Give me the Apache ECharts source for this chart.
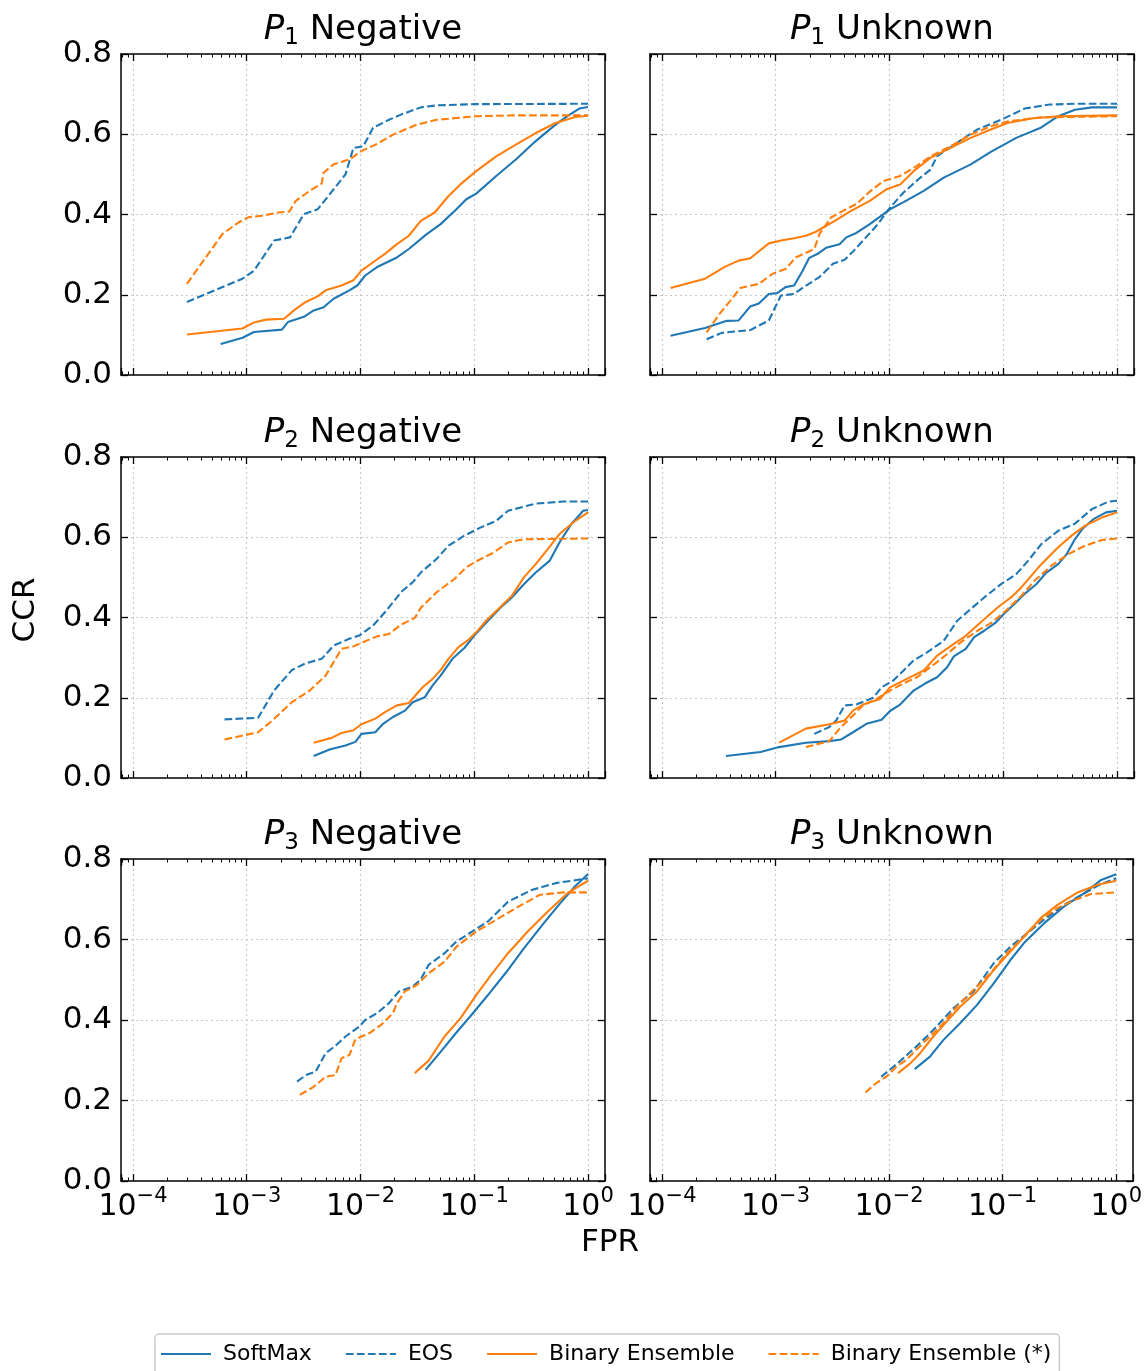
<!DOCTYPE html>
<html><head><meta charset="utf-8">
<script src="https://cdn.jsdelivr.net/npm/echarts@6/dist/echarts.min.js"></script>
<style>html,body{margin:0;padding:0;background:#fff}#c{width:1145px;height:1371px}</style>
</head><body><div id="c"></div>
<script>
// ---------------- data (FPR, CCR) ----------------
const p1negSoftmax = [[5.9e-4,0.077],[9.2e-4,0.093],[1.16e-3,0.107],[2.04e-3,0.113],[2.3e-3,0.132],[3.18e-3,0.145],[3.88e-3,0.161],[4.74e-3,0.169],[5.8e-3,0.19],[7.98e-3,0.211],[9.38e-3,0.223],[1.1e-2,0.248],[1.4e-2,0.269],[2.09e-2,0.293],[2.66e-2,0.314],[3.82e-2,0.351],[5.06e-2,0.376],[6.97e-2,0.413],[8.51e-2,0.438],[0.104,0.452],[0.156,0.496],[0.232,0.537],[0.347,0.583],[0.518,0.624],[0.659,0.645],[0.838,0.664],[1.0,0.668]];
const p1negEos = [[2.98e-4,0.182],[5.22e-4,0.211],[9.16e-4,0.24],[1.16e-3,0.26],[1.74e-3,0.335],[2.4e-3,0.343],[3.18e-3,0.401],[4.2e-3,0.413],[5.35e-3,0.45],[7.38e-3,0.5],[8.66e-3,0.566],[1.06e-2,0.57],[1.29e-2,0.616],[1.78e-2,0.636],[2.27e-2,0.649],[3.39e-2,0.667],[4.67e-2,0.672],[0.104,0.675],[1.0,0.676]];
const p1negBe = [[2.98e-4,0.101],[9.16e-4,0.116],[1.16e-3,0.131],[1.48e-3,0.138],[2.13e-3,0.14],[2.6e-3,0.161],[3.3e-3,0.182],[4.2e-3,0.196],[4.93e-3,0.211],[6.81e-3,0.223],[8.66e-3,0.236],[1.02e-2,0.26],[1.29e-2,0.281],[1.64e-2,0.302],[2.09e-2,0.326],[2.66e-2,0.347],[3.39e-2,0.384],[4.49e-2,0.405],[5.94e-2,0.446],[7.55e-2,0.475],[0.104,0.508],[0.156,0.545],[0.232,0.574],[0.347,0.603],[0.518,0.628],[0.774,0.643],[1.0,0.646]];
const p1negBeStar = [[2.98e-4,0.227],[6.1e-4,0.351],[8.45e-4,0.38],[1.03e-3,0.393],[1.37e-3,0.397],[1.88e-3,0.405],[2.36e-3,0.407],[2.7e-3,0.434],[3.58e-3,0.459],[4.56e-3,0.477],[4.74e-3,0.504],[5.8e-3,0.525],[7.98e-3,0.537],[1.02e-2,0.558],[1.4e-2,0.576],[1.93e-2,0.599],[3.13e-2,0.624],[4.67e-2,0.636],[0.104,0.645],[0.232,0.647],[1.0,0.647]];

const p1unkSoftmax = [[1.19e-4,0.098],[2.39e-4,0.117],[3.72e-4,0.135],[4.72e-4,0.136],[5.98e-4,0.171],[7.1e-4,0.178],[8.7e-4,0.202],[1.03e-3,0.204],[1.22e-3,0.219],[1.45e-3,0.223],[1.72e-3,0.259],[1.97e-3,0.292],[2.34e-3,0.302],[2.77e-3,0.317],[3.64e-3,0.326],[4.17e-3,0.343],[5.11e-3,0.354],[6.71e-3,0.376],[1.01e-2,0.413],[1.33e-2,0.431],[2.0e-2,0.459],[3.0e-2,0.492],[5.18e-2,0.525],[7.78e-2,0.556],[0.13,0.591],[0.216,0.617],[0.304,0.645],[0.427,0.661],[0.6,0.667],[1.0,0.667]];
const p1unkEos = [[2.47e-4,0.089],[3.36e-4,0.105],[5.98e-4,0.112],[8.7e-4,0.136],[1.11e-3,0.198],[1.45e-3,0.202],[1.72e-3,0.217],[2.42e-3,0.244],[3.18e-3,0.277],[4.03e-3,0.287],[4.78e-3,0.308],[5.86e-3,0.335],[7.69e-3,0.372],[1.01e-2,0.417],[1.33e-2,0.455],[1.87e-2,0.492],[2.29e-2,0.512],[2.62e-2,0.545],[3.94e-2,0.579],[5.93e-2,0.612],[9.55e-2,0.636],[0.154,0.664],[0.256,0.674],[0.427,0.676],[1.0,0.676]];
const p1unkBe = [[1.19e-4,0.217],[2.39e-4,0.24],[3.6e-4,0.27],[4.72e-4,0.285],[5.98e-4,0.291],[8.7e-4,0.328],[1.14e-3,0.336],[1.45e-3,0.341],[1.84e-3,0.347],[2.26e-3,0.357],[2.77e-3,0.372],[3.4e-3,0.386],[4.47e-3,0.407],[6.71e-3,0.434],[9.44e-3,0.463],[1.24e-2,0.475],[1.63e-2,0.508],[2.29e-2,0.541],[3.44e-2,0.566],[5.18e-2,0.591],[7.78e-2,0.612],[0.109,0.628],[0.182,0.64],[0.304,0.645],[1.0,0.647]];
const p1unkBeStar = [[2.47e-4,0.106],[3.14e-4,0.149],[4.12e-4,0.19],[4.89e-4,0.217],[7.1e-4,0.227],[9.33e-4,0.252],[1.22e-3,0.264],[1.5e-3,0.293],[2.18e-3,0.314],[2.42e-3,0.351],[3.07e-3,0.393],[3.9e-3,0.409],[5.11e-3,0.426],[6.71e-3,0.457],[8.81e-3,0.483],[1.24e-2,0.496],[1.74e-2,0.521],[2.29e-2,0.545],[3.44e-2,0.57],[5.18e-2,0.599],[7.78e-2,0.62],[0.109,0.632],[0.216,0.642],[1.0,0.645]];

const p2negSoftmax = [[3.88e-3,0.055],[5.35e-3,0.071],[7.38e-3,0.081],[9.02e-3,0.09],[1.02e-2,0.11],[1.35e-2,0.114],[1.58e-2,0.135],[1.93e-2,0.152],[2.46e-2,0.168],[2.88e-2,0.189],[3.67e-2,0.201],[4.31e-2,0.231],[5.06e-2,0.255],[6.43e-2,0.297],[8.18e-2,0.324],[0.1,0.355],[0.132,0.392],[0.168,0.423],[0.214,0.45],[0.273,0.483],[0.347,0.512],[0.459,0.541],[0.561,0.587],[0.714,0.633],[0.908,0.666],[1.0,0.668]];
const p2negEos = [[6.38e-4,0.146],[1.26e-3,0.15],[1.74e-3,0.218],[2.49e-3,0.269],[3.3e-3,0.286],[4.56e-3,0.297],[5.8e-3,0.33],[7.98e-3,0.347],[9.77e-3,0.355],[1.29e-2,0.38],[1.71e-2,0.419],[2.27e-2,0.463],[2.88e-2,0.488],[3.39e-2,0.512],[4.67e-2,0.546],[5.94e-2,0.579],[8.18e-2,0.604],[0.113,0.624],[0.156,0.641],[0.198,0.666],[0.347,0.684],[0.608,0.689],[1.0,0.689]];
const p2negBe = [[3.88e-3,0.088],[5.57e-3,0.1],[6.81e-3,0.112],[8.66e-3,0.119],[1.02e-2,0.134],[1.35e-2,0.148],[1.64e-2,0.164],[2.09e-2,0.181],[2.66e-2,0.187],[3.13e-2,0.21],[3.52e-2,0.226],[4.31e-2,0.247],[5.06e-2,0.269],[5.94e-2,0.297],[7.26e-2,0.326],[8.87e-2,0.344],[0.104,0.363],[0.127,0.392],[0.168,0.425],[0.214,0.454],[0.273,0.5],[0.347,0.533],[0.441,0.57],[0.561,0.608],[0.774,0.641],[1.0,0.662]];
const p2negBeStar = [[6.38e-4,0.096],[1.26e-3,0.114],[1.61e-3,0.139],[2.49e-3,0.189],[3.58e-3,0.218],[4.93e-3,0.255],[6.81e-3,0.322],[8.66e-3,0.328],[1.1e-2,0.341],[1.4e-2,0.353],[1.78e-2,0.359],[2.27e-2,0.382],[3.0e-2,0.399],[3.39e-2,0.424],[4.67e-2,0.463],[6.7e-2,0.496],[8.51e-2,0.525],[0.104,0.54],[0.144,0.56],[0.198,0.587],[0.273,0.595],[1.0,0.597]];

const p2unkSoftmax = [[3.65e-4,0.055],[7.35e-4,0.065],[1.07e-3,0.077],[1.84e-3,0.088],[2.96e-3,0.092],[3.77e-3,0.096],[4.78e-3,0.114],[6.27e-3,0.135],[8.53e-3,0.145],[1.01e-2,0.167],[1.24e-2,0.183],[1.63e-2,0.218],[2.07e-2,0.236],[2.62e-2,0.251],[3.21e-2,0.276],[3.68e-2,0.303],[4.68e-2,0.322],[5.55e-2,0.351],[6.8e-2,0.367],[8.63e-2,0.388],[0.102,0.41],[0.13,0.438],[0.154,0.459],[0.195,0.483],[0.239,0.512],[0.304,0.533],[0.361,0.558],[0.42,0.592],[0.5,0.622],[0.62,0.645],[0.8,0.662],[1.0,0.666]];
const p2unkEos = [[2.18e-3,0.11],[2.96e-3,0.127],[3.4e-3,0.143],[4.03e-3,0.181],[5.11e-3,0.183],[7.19e-3,0.2],[8.53e-3,0.226],[1.08e-2,0.243],[1.33e-2,0.268],[1.63e-2,0.293],[2.14e-2,0.313],[3.0e-2,0.342],[3.94e-2,0.392],[5.18e-2,0.421],[6.8e-2,0.45],[9.55e-2,0.483],[0.13,0.508],[0.165,0.541],[0.216,0.583],[0.304,0.616],[0.427,0.634],[0.6,0.67],[0.844,0.689],[1.0,0.691]];
const p2unkBe = [[1.07e-3,0.088],[1.84e-3,0.123],[2.96e-3,0.134],[4.03e-3,0.143],[4.78e-3,0.168],[5.86e-3,0.183],[8.24e-3,0.197],[1.01e-2,0.226],[1.42e-2,0.247],[2.0e-2,0.268],[2.62e-2,0.305],[3.68e-2,0.334],[4.52e-2,0.351],[6.57e-2,0.392],[8.91e-2,0.425],[0.117,0.45],[0.144,0.475],[0.216,0.533],[0.304,0.575],[0.399,0.604],[0.524,0.629],[0.736,0.649],[1.0,0.662]];
const p2unkBeStar = [[1.84e-3,0.077],[2.96e-3,0.092],[3.64e-3,0.123],[4.78e-3,0.156],[5.86e-3,0.181],[7.69e-3,0.197],[1.01e-2,0.218],[1.33e-2,0.236],[1.74e-2,0.251],[2.29e-2,0.276],[3.21e-2,0.309],[4.22e-2,0.338],[5.93e-2,0.367],[7.78e-2,0.386],[0.102,0.413],[0.144,0.454],[0.189,0.492],[0.265,0.529],[0.373,0.558],[0.524,0.579],[0.736,0.593],[1.0,0.597]];

const p3negSoftmax = [[3.73e-2,0.276],[5.06e-2,0.321],[6.97e-2,0.369],[9.61e-2,0.415],[0.132,0.462],[0.19,0.518],[0.273,0.578],[0.407,0.64],[0.561,0.688],[0.774,0.733],[1.0,0.763]];
const p3negEos = [[2.77e-3,0.247],[3.3e-3,0.263],[4.04e-3,0.272],[4.93e-3,0.317],[6.03e-3,0.336],[7.38e-3,0.359],[9.77e-3,0.384],[1.1e-2,0.4],[1.4e-2,0.417],[1.78e-2,0.442],[2.18e-2,0.471],[2.88e-2,0.483],[3.39e-2,0.501],[3.97e-2,0.537],[5.48e-2,0.566],[6.97e-2,0.595],[9.61e-2,0.62],[0.132,0.645],[0.198,0.694],[0.32,0.723],[0.518,0.74],[1.0,0.752]];
const p3negBe = [[3.0e-2,0.268],[3.97e-2,0.299],[5.48e-2,0.359],[7.55e-2,0.404],[0.104,0.462],[0.144,0.516],[0.198,0.566],[0.295,0.62],[0.441,0.669],[0.659,0.715],[1.0,0.746]];
const p3negBeStar = [[2.93e-3,0.214],[3.88e-3,0.234],[4.93e-3,0.259],[6.03e-3,0.263],[6.81e-3,0.305],[7.98e-3,0.313],[9.02e-3,0.352],[1.19e-2,0.367],[1.52e-2,0.388],[1.93e-2,0.417],[2.09e-2,0.442],[2.46e-2,0.471],[3.13e-2,0.487],[3.97e-2,0.516],[5.48e-2,0.545],[6.97e-2,0.582],[0.104,0.62],[0.156,0.649],[0.232,0.678],[0.376,0.711],[0.608,0.717],[1.0,0.717]];

const p3unkSoftmax = [[1.68e-2,0.278],[2.29e-2,0.309],[3.0e-2,0.35],[4.22e-2,0.392],[5.93e-2,0.437],[8.34e-2,0.491],[0.117,0.549],[0.154,0.591],[0.231,0.64],[0.348,0.682],[0.524,0.715],[0.736,0.748],[1.0,0.762]];
const p3unkEos = [[8.53e-3,0.259],[1.24e-2,0.297],[1.74e-2,0.334],[2.45e-2,0.375],[3.68e-2,0.429],[5.55e-2,0.471],[8.34e-2,0.541],[0.117,0.582],[0.165,0.616],[0.231,0.649],[0.348,0.686],[0.524,0.715],[0.736,0.738],[1.0,0.752]];
const p3unkBe = [[1.2e-2,0.268],[1.52e-2,0.291],[1.87e-2,0.317],[2.45e-2,0.359],[3.21e-2,0.396],[4.22e-2,0.433],[5.93e-2,0.471],[8.34e-2,0.524],[0.117,0.57],[0.154,0.607],[0.216,0.653],[0.304,0.686],[0.457,0.717],[0.687,0.736],[1.0,0.746]];
const p3unkBeStar = [[6.19e-3,0.22],[7.69e-3,0.243],[9.44e-3,0.259],[1.16e-2,0.284],[1.42e-2,0.301],[1.74e-2,0.326],[2.29e-2,0.359],[3.0e-2,0.392],[3.94e-2,0.433],[5.55e-2,0.475],[7.78e-2,0.516],[0.109,0.566],[0.154,0.607],[0.216,0.649],[0.304,0.678],[0.427,0.698],[0.6,0.713],[1.0,0.717]];

const seriesNames = ['SoftMax', 'EOS', 'Binary Ensemble', 'Binary Ensemble (*)'];
const panelSub = ['1', '1', '2', '2', '3', '3'];
const panelKind = ['Negative', 'Unknown', 'Negative', 'Unknown', 'Negative', 'Unknown'];
const panelData = [
  [p1negSoftmax, p1negEos, p1negBe, p1negBeStar],
  [p1unkSoftmax, p1unkEos, p1unkBe, p1unkBeStar],
  [p2negSoftmax, p2negEos, p2negBe, p2negBeStar],
  [p2unkSoftmax, p2unkEos, p2unkBe, p2unkBeStar],
  [p3negSoftmax, p3negEos, p3negBe, p3negBeStar],
  [p3unkSoftmax, p3unkEos, p3unkBe, p3unkBeStar]
];
const xMin = 7.85e-5, xMax = 1.41;   // axis limits (FPR)
const yMin = 0, yMax = 0.8, yStep = 0.2;

// ---------------- styling / layout ----------------
const FONT = 'DejaVu Sans';
const BLUE = '#1f77b4', ORANGE = '#ff7f0e';
const seriesColor = [BLUE, BLUE, ORANGE, ORANGE];
const DASH = [7.7, 3.3];
const seriesDash = ['solid', DASH, 'solid', DASH];
const colLeft = [121, 650];
const rowTop = [54, 457, 859];
const W = 484, H = 321;

function fmtX(v) {
  const e = Math.log10(v);
  const r = Math.round(e);
  if (Math.abs(e - r) > 1e-6) return '';
  return '{b|10}{s|' + (r < 0 ? '\u2212' + (-r) : String(r)) + '}';
}

const grids = [], xAxes = [], yAxes = [], series = [], titles = [];
for (let i = 0; i < 6; i++) {
  const col = i % 2, row = Math.floor(i / 2);
  grids.push({ left: colLeft[col], top: rowTop[row], width: W, height: H + (row === 2 ? 1 : 0), containLabel: false });
  const tickStyle = { inside: true, length: 7, lineStyle: { color: '#000', width: 1.3 } };
  const minor = { show: true, splitNumber: 9, length: 3.5, lineStyle: { color: '#000', width: 1 } };
  const common = {
    type: 'log', logBase: 10, min: xMin, max: xMax, gridIndex: i,
    axisLine: { show: true, onZero: false, lineStyle: { color: '#000', width: 1.5 } },
    axisTick: tickStyle, minorTick: minor,
    minorSplitLine: { show: false }
  };
  xAxes.push(Object.assign({}, common, {
    position: 'bottom',
    splitLine: { show: true, showMinLine: false, showMaxLine: false, lineStyle: { color: '#c8c8c8', type: [2, 3], width: 1.2 } },
    axisLabel: {
      show: row === 2, formatter: fmtX, margin: 5, showMinLabel: true, showMaxLabel: true, hideOverlap: false,
      rich: {
        b: { fontFamily: FONT, fontSize: 30, color: '#000', lineHeight: 36, verticalAlign: 'bottom' },
        s: { fontFamily: FONT, fontSize: 21, color: '#000', lineHeight: 21, verticalAlign: 'top' }
      }
    }
  }));
  xAxes.push(Object.assign({}, common, {
    position: 'top', splitLine: { show: false }, axisLabel: { show: false }
  }));
  const yCommon = {
    type: 'value', min: yMin, max: yMax, interval: yStep, gridIndex: i,
    axisLine: { show: true, onZero: false, lineStyle: { color: '#000', width: 1.5 } },
    axisTick: tickStyle
  };
  yAxes.push(Object.assign({}, yCommon, {
    position: 'left',
    splitLine: { show: true, showMinLine: false, showMaxLine: false, lineStyle: { color: '#c8c8c8', type: [2, 3], width: 1.2 } },
    axisLabel: { show: col === 0, formatter: v => v.toFixed(1), fontFamily: FONT, fontSize: 31, color: '#000', margin: 9 }
  }));
  yAxes.push(Object.assign({}, yCommon, {
    position: 'right', splitLine: { show: false }, axisLabel: { show: false }
  }));
  for (let s = 0; s < 4; s++) {
    series.push({
      type: 'line', name: seriesNames[s], xAxisIndex: 2 * i, yAxisIndex: 2 * i,
      data: panelData[i][s], showSymbol: false, symbol: 'none', smooth: false, clip: true,
      color: seriesColor[s],
      lineStyle: { color: seriesColor[s], width: 2.1, type: seriesDash[s] },
      z: 3 + s, animation: false
    });
  }
  titles.push({
    text: '{i|P}{sub|' + panelSub[i] + '}{t| ' + panelKind[i] + '}',
    left: colLeft[col] + W / 2, top: rowTop[row] - 44, textAlign: 'center', padding: 0,
    textStyle: {
      fontFamily: FONT, fontSize: 34, fontWeight: 'normal', color: '#000',
      rich: {
        i: { fontFamily: FONT, fontSize: 34, fontStyle: 'italic', color: '#000', lineHeight: 40 },
        t: { fontFamily: FONT, fontSize: 34, color: '#000', lineHeight: 40 },
        sub: { fontFamily: FONT, fontSize: 23, color: '#000', lineHeight: 23, verticalAlign: 'bottom' }
      }
    }
  });
}

const option = {
  backgroundColor: '#fff',
  animation: false,
  title: titles,
  grid: grids,
  xAxis: xAxes,
  yAxis: yAxes,
  series: series,
  legend: {
    data: seriesNames.map(n => ({ name: n })),
    left: 155, top: 1334,
    padding: [9, 8, 20, 5],
    itemGap: 33, itemWidth: 50, itemHeight: 14,
    itemStyle: { opacity: 0, borderWidth: 0 },
    borderColor: '#cccccc', borderWidth: 1.5, borderRadius: 4,
    backgroundColor: '#fff',
    textStyle: { fontFamily: FONT, fontSize: 22, color: '#000', padding: [0, 0, 0, 7] },
    selectedMode: false
  },
  graphic: [
    { type: 'text', x: 26, y: 610, rotation: Math.PI / 2,
      style: { text: 'CCR', fontFamily: FONT, fontSize: 31, fill: '#000', align: 'center', verticalAlign: 'middle', textAlign: 'center', textVerticalAlign: 'middle' } },
    { type: 'text', x: 610, y: 1243,
      style: { text: 'FPR', fontFamily: FONT, fontSize: 31, fill: '#000', align: 'center', verticalAlign: 'middle', textAlign: 'center', textVerticalAlign: 'middle' } }
  ]
};
const chart = echarts.init(document.getElementById('c'), null, { renderer: 'canvas' });
chart.setOption(option);
</script>
</body></html>
